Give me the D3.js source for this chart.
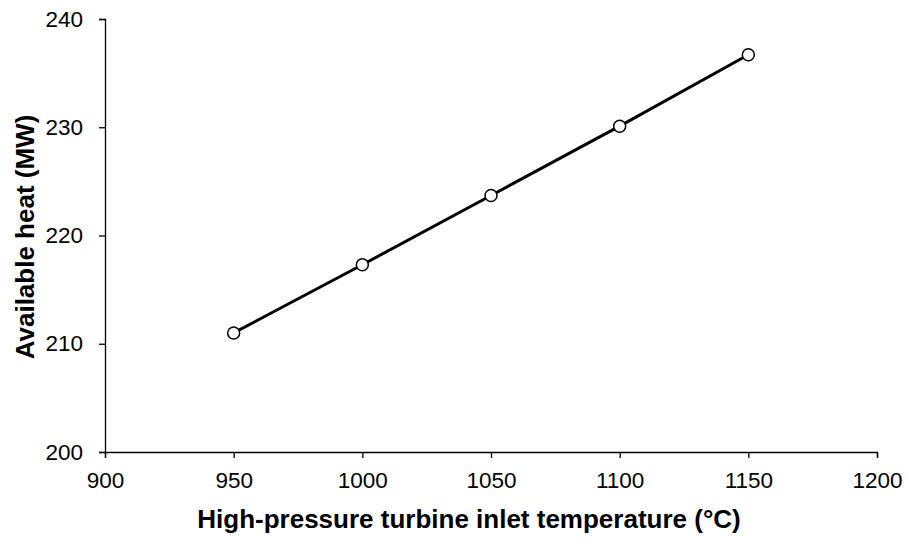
<!DOCTYPE html>
<meta charset="utf-8">
<style>
  body { margin: 0; background: white; }
  .axis text { font-family: "Liberation Sans", Arial, sans-serif; font-size: 22.5px; fill: black; }
  .axis path, .axis line { stroke: black; stroke-width: 1.3px; }
  .title { font-family: "Liberation Sans", Arial, sans-serif; font-size: 26px; font-weight: bold; }
</style>
<body>
<script src="https://cdn.jsdelivr.net/npm/d3@7"></script>
<script>

// data
const temps = [950, 1000, 1050, 1100, 1150]
const heat = [211.0, 217.3, 223.7, 230.1, 236.7]
const xTicks = [900, 950, 1000, 1050, 1100, 1150, 1200]
const yTicks = [200, 210, 220, 230, 240]

const margin = {top: 19, right: 30, bottom: 88, left: 105},
      width = 907 - margin.left - margin.right,
      height = 540 - margin.top - margin.bottom

const svg = d3.select("body")
  .append("svg")
    .attr("width", 907)
    .attr("height", 540)
  .append("g")
    .attr("transform", `translate(${margin.left}, ${margin.top})`)

const x = d3.scaleLinear().domain([900, 1200]).range([0, width])
const y = d3.scaleLinear().domain([200, 240]).range([height, 0])

svg.append("g")
  .attr("class", "axis")
  .attr("transform", `translate(0, ${height})`)
  .call(d3.axisBottom(x).tickValues(xTicks).tickFormat(d3.format("d"))
    .tickSize(6).tickPadding(14).tickSizeOuter(6))

svg.append("g")
  .attr("class", "axis")
  .call(d3.axisLeft(y).tickValues(yTicks).tickFormat(d3.format("d"))
    .tickSize(6).tickPadding(16).tickSizeOuter(6))

const pts = temps.map((t, i) => [t, heat[i]])

svg.append("path")
  .datum(pts)
  .attr("fill", "none")
  .attr("stroke", "black")
  .attr("stroke-width", 3)
  .attr("d", d3.line().x(d => x(d[0])).y(d => y(d[1])))

svg.selectAll(".pt")
  .data(pts)
  .enter().append("circle")
    .attr("class", "pt")
    .attr("cx", d => x(d[0]))
    .attr("cy", d => y(d[1]))
    .attr("r", 6)
    .attr("fill", "white")
    .attr("stroke", "black")
    .attr("stroke-width", 1.5)

svg.append("text")
  .attr("class", "title")
  .attr("x", 364)
  .attr("y", 509)
  .attr("text-anchor", "middle")
  .text("High-pressure turbine inlet temperature (°C)")

svg.append("text")
  .attr("class", "title")
  .attr("transform", `translate(-71, 218) rotate(-90)`)
  .attr("text-anchor", "middle")
  .text("Available heat (MW)")

</script>
</body>
